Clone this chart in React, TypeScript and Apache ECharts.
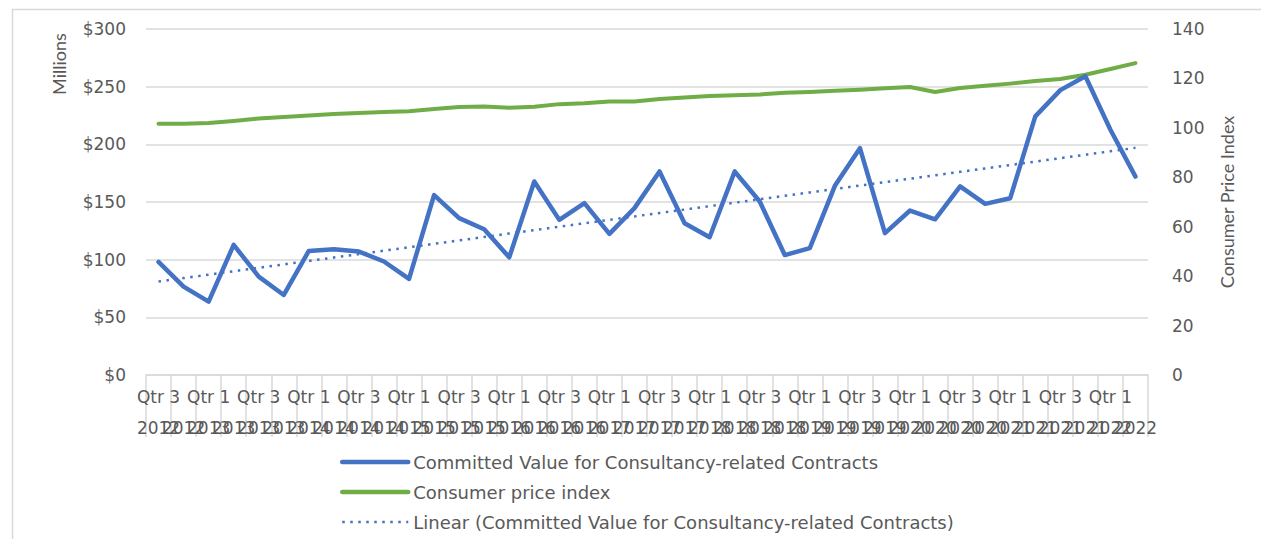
import React, { useEffect, useRef } from "react";
import * as echarts from "echarts";

const categories: string[] = [
  "Qtr 3 2012", "Qtr 4 2012",
  "Qtr 1 2013", "Qtr 2 2013", "Qtr 3 2013", "Qtr 4 2013",
  "Qtr 1 2014", "Qtr 2 2014", "Qtr 3 2014", "Qtr 4 2014",
  "Qtr 1 2015", "Qtr 2 2015", "Qtr 3 2015", "Qtr 4 2015",
  "Qtr 1 2016", "Qtr 2 2016", "Qtr 3 2016", "Qtr 4 2016",
  "Qtr 1 2017", "Qtr 2 2017", "Qtr 3 2017", "Qtr 4 2017",
  "Qtr 1 2018", "Qtr 2 2018", "Qtr 3 2018", "Qtr 4 2018",
  "Qtr 1 2019", "Qtr 2 2019", "Qtr 3 2019", "Qtr 4 2019",
  "Qtr 1 2020", "Qtr 2 2020", "Qtr 3 2020", "Qtr 4 2020",
  "Qtr 1 2021", "Qtr 2 2021", "Qtr 3 2021", "Qtr 4 2021",
  "Qtr 1 2022", "Qtr 2 2022",
];

// Committed value ($ millions)
const committedValues: number[] = [
  98, 76.6, 63.6, 112.8, 85.3, 69.4, 107.6, 109.1, 107, 98.4,
  83.3, 156, 136, 126.4, 102, 167.8, 134.5, 149, 122.4, 144.7,
  176.5, 131.6, 119.5, 176.5, 150.4, 104, 110, 164, 196.7, 123,
  142.6, 135, 163.5, 148.4, 153.3, 224.2, 247, 259, 212.6, 172,
];

// Consumer price index
const cpiValues: number[] = [
  101.7, 101.7, 102.0, 102.8, 103.8, 104.4, 105.0, 105.6, 106.0, 106.4,
  106.7, 107.6, 108.4, 108.6, 108.1, 108.5, 109.6, 110.0, 110.7, 110.7,
  111.7, 112.3, 112.9, 113.2, 113.5, 114.2, 114.5, 115.0, 115.4, 116.0,
  116.5, 114.5, 116.1, 117.0, 117.9, 119.0, 119.8, 121.5, 123.8, 126.2,
];

const leftTicks = { min: 0, max: 300, interval: 50 };
const rightTicks = { min: 0, max: 140, interval: 20 };

const seriesNames = [
  "Committed Value for Consultancy-related Contracts",
  "Consumer price index",
  "Linear (Committed Value for Consultancy-related Contracts)",
];

// Least-squares linear trend of the committed values (Excel "Linear" trendline)
function linearTrend(values: number[]): number[] {
  const n = values.length;
  let sx = 0, sy = 0, sxx = 0, sxy = 0;
  values.forEach((v, i) => {
    const x = i + 1;
    sx += x; sy += v; sxx += x * x; sxy += x * v;
  });
  const slope = (n * sxy - sx * sy) / (n * sxx - sx * sx);
  const icpt = (sy - slope * sx) / n;
  return values.map((_, i) => +(icpt + slope * (i + 1)).toFixed(2));
}

const BLUE = "#4472C4";
const GREEN = "#70AD47";
const TEXT = "#595959";
const GRID = "#D9D9D9";
const TICK_FONT = "DejaVu Sans";
const TITLE_FONT = "Lato";

export default function App() {
  const ref = useRef<HTMLDivElement>(null);

  useEffect(() => {
    if (!ref.current) return;
    const chart = echarts.init(ref.current, null, { renderer: "svg" });
    const trend = linearTrend(committedValues);

    chart.setOption({
      animation: false,
      backgroundColor: "#ffffff",
      grid: { left: 146, right: 113, top: 29, bottom: 164 },
      graphic: [
        {
          type: "rect",
          shape: { x: 12.5, y: 9.5, width: 1400, height: 700 },
          style: { fill: "none", stroke: GRID, lineWidth: 1.5 },
          silent: true,
          z: -10,
        },
        {
          type: "text",
          x: 59,
          y: 64,
          rotation: Math.PI / 2,
          style: {
            text: "Millions",
            fill: TEXT,
            font: `18px ${TITLE_FONT}`,
            align: "center",
            verticalAlign: "middle",
          },
        },
      ],
      legend: {
        orient: "vertical",
        left: 335,
        top: 447,
        height: 120,
        itemWidth: 66,
        itemHeight: 14,
        itemGap: 10,
        itemStyle: { opacity: 0 },
        textStyle: { color: TEXT, fontFamily: TICK_FONT, fontSize: 18, lineHeight: 20 },
        data: [
          { name: seriesNames[0], lineStyle: { width: 4.5, color: BLUE } },
          { name: seriesNames[1], lineStyle: { width: 4.5, color: GREEN } },
          { name: seriesNames[2], lineStyle: { width: 2.5, color: BLUE, type: [2.5, 5.5] } },
        ],
      },
      xAxis: {
        type: "category",
        data: categories,
        boundaryGap: true,
        axisLine: { lineStyle: { color: GRID, width: 1.5 } },
        axisTick: {
          show: true,
          interval: 0,
          length: 62,
          lineStyle: { color: GRID, width: 1.5 },
        },
        axisLabel: {
          interval: 0,
          margin: 6,
          color: TEXT,
          fontFamily: TICK_FONT,
          fontSize: 17,
          lineHeight: 31,
          formatter: (val: string, idx: number) => {
            const parts = val.split(" ");
            const q = parts[0] + " " + parts[1];
            const y = parts[2];
            return idx % 2 === 0 ? `${q}\n${y}` : ` \n${y}`;
          },
        },
      },
      yAxis: [
        {
          type: "value",
          min: leftTicks.min,
          max: leftTicks.max,
          interval: leftTicks.interval,
          axisLine: { show: false },
          axisTick: { show: false },
          axisLabel: {
            formatter: (v: number) => `$${v}`,
            color: TEXT,
            fontFamily: TICK_FONT,
            fontSize: 17,
            margin: 20,
          },
          splitLine: { lineStyle: { color: GRID, width: 1.5 } },
        },
        {
          type: "value",
          min: rightTicks.min,
          max: rightTicks.max,
          interval: rightTicks.interval,
          position: "right",
          name: "Consumer Price Index",
          nameLocation: "middle",
          nameRotate: 90,
          nameGap: 70,
          nameTextStyle: { color: TEXT, fontFamily: TITLE_FONT, fontSize: 18 },
          axisLine: { show: false },
          axisTick: { show: false },
          axisLabel: {
            color: TEXT,
            fontFamily: TICK_FONT,
            fontSize: 17,
            margin: 24,
          },
          splitLine: { show: false },
        },
      ],
      series: [
        {
          name: seriesNames[0],
          type: "line",
          yAxisIndex: 0,
          data: committedValues,
          symbol: "none",
          lineStyle: { color: BLUE, width: 4.5, cap: "round", join: "round" },
          itemStyle: { color: BLUE },
          z: 3,
        },
        {
          name: seriesNames[1],
          type: "line",
          yAxisIndex: 1,
          data: cpiValues,
          symbol: "none",
          lineStyle: { color: GREEN, width: 4, cap: "round", join: "round" },
          itemStyle: { color: GREEN },
          z: 2,
        },
        {
          name: seriesNames[2],
          type: "line",
          yAxisIndex: 0,
          data: trend,
          symbol: "none",
          lineStyle: { color: BLUE, width: 2.5, type: [2.5, 5.5], cap: "butt" },
          itemStyle: { color: BLUE },
          z: 4,
        },
      ],
    });

    return () => chart.dispose();
  }, []);

  return (
    <div
      ref={ref}
      style={{ position: "absolute", left: 0, top: 0, width: 1261, height: 539 }}
    />
  );
}
